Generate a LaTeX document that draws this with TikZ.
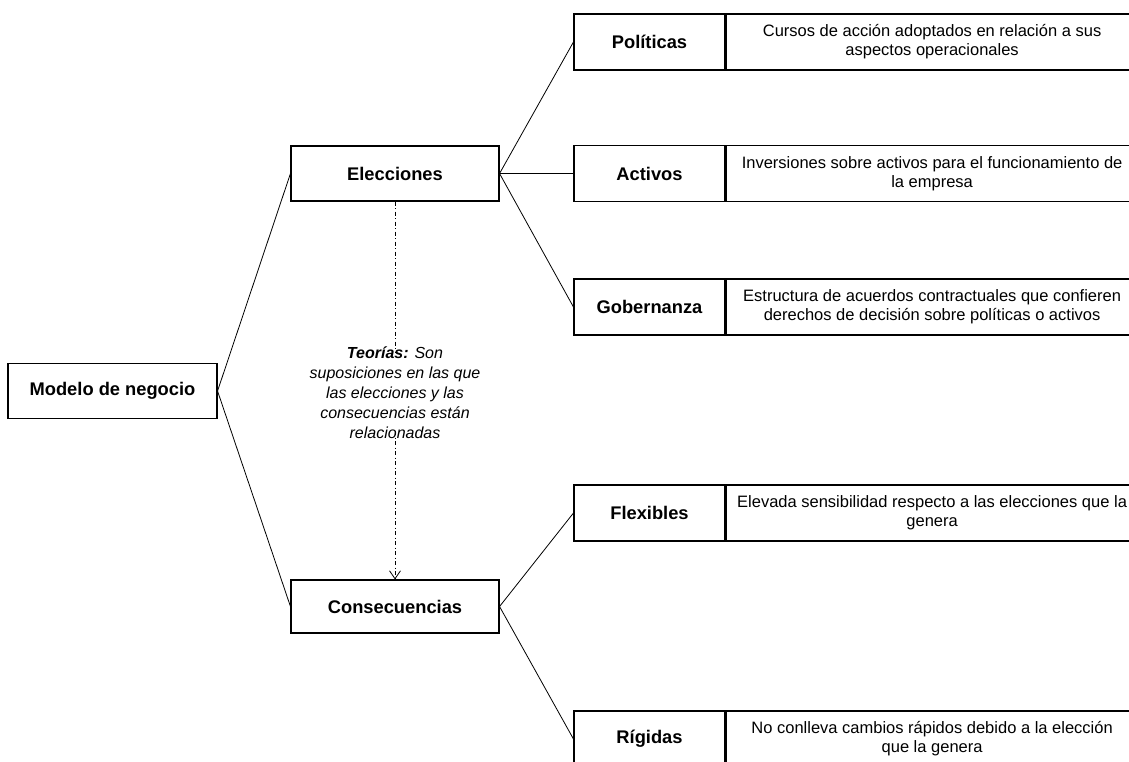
\documentclass[tikz,border=0pt]{standalone}
\usepackage{fontspec}
\setmainfont{Liberation Sans}
\usetikzlibrary{arrows.meta}

\begin{document}
\begin{tikzpicture}[x=1pt,y=-1pt,
  box/.style={draw, line width=1.1pt, rectangle, inner sep=0pt, align=center},
  headbox/.style={box, font=\fontsize{18.3}{21}\selectfont\bfseries},
  mainbox/.style={headbox, minimum width=208pt, minimum height=55pt},
  labelbox/.style={headbox, minimum width=151pt, minimum height=56pt},
  descbox/.style={box, minimum width=412pt, minimum height=56pt,
    font=\fontsize{16.5}{19}\selectfont},
  link/.style={draw, line width=0.8pt},
  theory/.style={draw, line width=0.8pt,
    dash pattern=on 4pt off 2.5pt on 1pt off 2.5pt}
]
\clip (0,0) rectangle (1129,761);

% root
\node[mainbox, minimum width=209pt] (modelo) at (112.5,391) {Modelo de negocio};

% second level
\node[mainbox] (elec) at (395,173.5) {Elecciones};
\node[mainbox, minimum height=53pt] (cons) at (395,606.5) {Consecuencias};

% choices
\node[labelbox] (pol) at (649.5,42) {Políticas};
\node[descbox, anchor=west] (pold) at (pol.east)
  {Cursos de acción adoptados en relación a sus\\aspectos operacionales};
\node[labelbox] (act) at (649.5,173.5) {Activos};
\node[descbox, anchor=west] (actd) at (act.east)
  {Inversiones sobre activos para el funcionamiento de\\la empresa};
\node[labelbox] (gob) at (649.5,307) {Gobernanza};
\node[descbox, anchor=west] (gobd) at (gob.east)
  {Estructura de acuerdos contractuales que confieren\\derechos de decisión sobre políticas o activos};

% consequences
\node[labelbox] (flex) at (649.5,513) {Flexibles};
\node[descbox, anchor=west] (flexd) at (flex.east)
  {Elevada sensibilidad respecto a las elecciones que la\\genera};
\node[labelbox] (rig) at (649.5,739) {Rígidas};
\node[descbox, anchor=west] (rigd) at (rig.east)
  {No conlleva cambios rápidos debido a la elección\\que la genera};

% theories between choices and consequences
\node[align=center, font=\fontsize{16}{20}\selectfont\itshape, inner sep=0pt]
  (teo) at (395,393)
  {\textbf{Teorías:} Son\\suposiciones en las que\\las elecciones y las\\consecuencias están\\relacionadas};

% tree connectors
\path[link] (modelo.east) -- (elec.west);
\path[link] (modelo.east) -- (cons.west);
\path[link] (elec.east) -- (pol.west);
\path[link] (elec.east) -- (act.west);
\path[link] (elec.east) -- (gob.west);
\path[link] (cons.east) -- (flex.west);
\path[link] (cons.east) -- (rig.west);

% dash-dot link through the theories text
\path[theory] (elec.south) -- ([yshift=-6pt]teo.north);
\path[theory, -{Straight Barb[length=8pt,width=11pt,line width=0.8pt]}]
  ([yshift=8pt]teo.south) -- (cons.north);
\end{tikzpicture}
\end{document}
